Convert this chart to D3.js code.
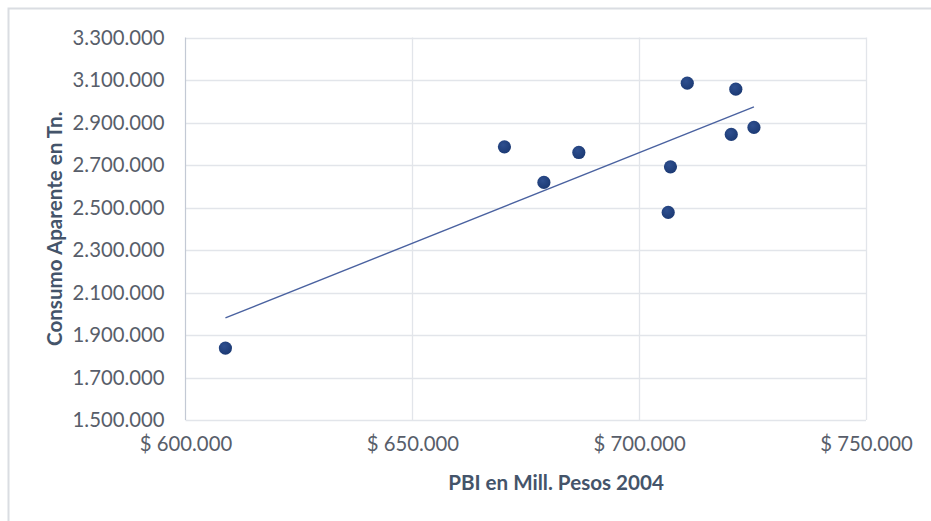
<!DOCTYPE html>
<html>
<head>
<meta charset="utf-8">
<script src="https://cdn.jsdelivr.net/npm/d3@7"></script>
<style>
  html, body { margin: 0; padding: 0; background: #fff; }
  svg { display: block; }
  text { font-family: Lato, "Open Sans", sans-serif; }
</style>
</head>
<body>
<svg id="chart" width="931" height="521"></svg>
<script>
// PBI (millones de pesos de 2004) y consumo aparente (toneladas) por año
const pbi = [608800, 670300, 679000, 686700, 706400, 706900, 710600, 720300, 721300, 725300];
const consumo = [1838600, 2785500, 2618000, 2759000, 2476900, 2691400, 3085000, 2843800, 3056800, 2876700];

const xTicks = [600000, 650000, 700000, 750000];
const yTicks = [1500000, 1700000, 1900000, 2100000, 2300000, 2500000, 2700000, 2900000, 3100000, 3300000];

const xTitle = "PBI en Mill. Pesos 2004";
const yTitle = "Consumo Aparente en Tn.";

const locale = d3.formatLocale({ decimal: ",", thousands: ".", grouping: [3], currency: ["$ ", ""] });
const fmtNum = locale.format(",.0f");
const fmtCur = locale.format("$,.0f");

const svg = d3.select("#chart");

// outer chart frame
svg.append("rect")
  .attr("x", 8.5).attr("y", 8.5)
  .attr("width", 940).attr("height", 540)
  .attr("fill", "#fff")
  .attr("stroke", "#DADDE2").attr("stroke-width", 2);

const plot = { left: 185.5, right: 866, top: 37.5, bottom: 420 };

const x = d3.scaleLinear().domain([600000, 750000]).range([plot.left, plot.right]);
const y = d3.scaleLinear().domain([1500000, 3300000]).range([plot.bottom, plot.top]);

// gridlines
svg.append("g").selectAll("line").data(yTicks).join("line")
  .attr("x1", plot.left).attr("x2", plot.right)
  .attr("y1", d => Math.round(y(d)) + 0.5).attr("y2", d => Math.round(y(d)) + 0.5)
  .attr("stroke", "#E2E5EA").attr("stroke-width", 1.3);

svg.append("g").selectAll("line").data(xTicks.slice(1)).join("line")
  .attr("y1", plot.top).attr("y2", plot.bottom)
  .attr("x1", d => Math.round(x(d)) + 0.5).attr("x2", d => Math.round(x(d)) + 0.5)
  .attr("stroke", "#E2E5EA").attr("stroke-width", 1.3);

// vertical axis line
svg.append("line")
  .attr("x1", plot.left).attr("x2", plot.left)
  .attr("y1", plot.top).attr("y2", plot.bottom)
  .attr("stroke", "#C3C9D4").attr("stroke-width", 1.2);

// y axis labels
const yAxis = d3.axisLeft(y).tickValues(yTicks).tickFormat(fmtNum).tickSize(0).tickPadding(21);
const gy = svg.append("g").attr("transform", `translate(${plot.left},0)`).call(yAxis);
gy.select(".domain").remove();
gy.selectAll("text")
  .attr("fill", "#585E6A").attr("font-size", "20.3px")
  .style("font-family", "Lato, sans-serif");

// x axis labels
const xAxis = d3.axisBottom(x).tickValues(xTicks).tickFormat(fmtCur).tickSize(0).tickPadding(17);
const gx = svg.append("g").attr("transform", `translate(0,${plot.bottom})`).call(xAxis);
gx.select(".domain").remove();
gx.selectAll("text")
  .attr("fill", "#585E6A").attr("font-size", "20.3px")
  .style("font-family", "Lato, sans-serif");

// axis titles
svg.append("text")
  .attr("x", 556).attr("y", 490)
  .attr("text-anchor", "middle")
  .attr("font-size", "20.6px").attr("font-weight", "bold")
  .attr("fill", "#44546A")
  .text(xTitle);

svg.append("text")
  .attr("transform", `translate(62,${(plot.top + plot.bottom) / 2}) rotate(-90)`)
  .attr("text-anchor", "middle")
  .attr("font-size", "20.6px").attr("font-weight", "bold")
  .attr("fill", "#44546A")
  .text(yTitle);

// least-squares linear trendline over the data range
const mx = d3.mean(pbi), my = d3.mean(consumo);
const sxy = d3.sum(pbi, (v, i) => (v - mx) * (consumo[i] - my));
const sxx = d3.sum(pbi, v => (v - mx) * (v - mx));
const slope = sxy / sxx;
const intercept = my - slope * mx;
const [xmin, xmax] = d3.extent(pbi);

svg.append("line")
  .attr("x1", x(xmin)).attr("y1", y(intercept + slope * xmin))
  .attr("x2", x(xmax)).attr("y2", y(intercept + slope * xmax))
  .attr("stroke", "#4A62A0").attr("stroke-width", 1.4);

// marker shading
const defs = svg.append("defs");
const grad = defs.append("radialGradient").attr("id", "dot")
  .attr("cx", "40%").attr("cy", "35%").attr("r", "65%");
grad.append("stop").attr("offset", "0%").attr("stop-color", "#2E4F8F");
grad.append("stop").attr("offset", "100%").attr("stop-color", "#1C3A74");

svg.append("g").selectAll("circle").data(pbi).join("circle")
  .attr("cx", d => x(d))
  .attr("cy", (d, i) => y(consumo[i]))
  .attr("r", 6.6)
  .attr("fill", "url(#dot)");
</script>
</body>
</html>
